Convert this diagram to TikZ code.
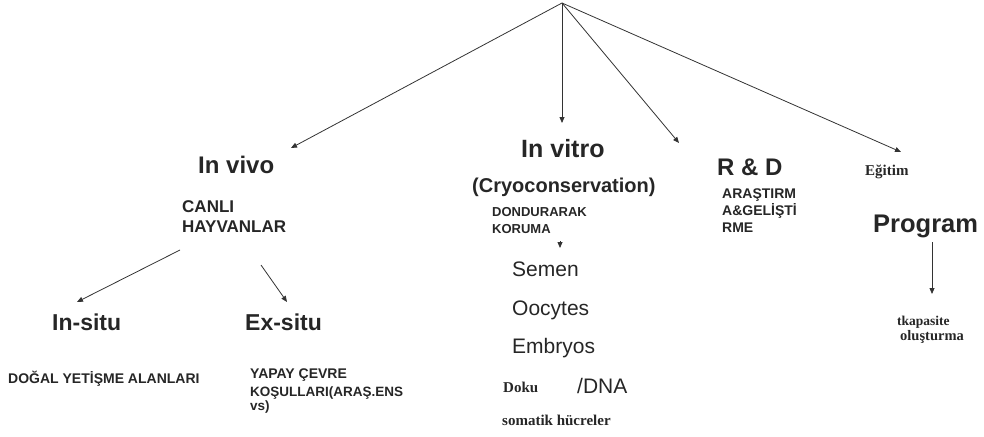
\documentclass[tikz,border=0pt]{standalone}
\usepackage{fontspec}
\setmainfont{Liberation Sans}
\newfontfamily\notefont{Liberation Serif}
\usetikzlibrary{arrows.meta}
\newcommand{\fsz}[1]{\fontsize{#1}{#1}\selectfont}
\tikzset{
  lbl/.style={anchor=base west, inner sep=0pt, text=black!85},
  head/.style={lbl, font=\bfseries\fsz{24}},
  sub/.style={lbl, font=\bfseries\fsz{14}},
  item/.style={lbl, font=\fsz{21}},
  note/.style={lbl, font=\notefont\bfseries\fsz{15}},
  arr/.style={draw=black!80, line width=0.8pt, -{Triangle[length=6pt,width=5pt]}},
}
\begin{document}
\begin{tikzpicture}[x=1pt, y=-1pt]
  \useasboundingbox (0,0) rectangle (984,436);
  % top
  \coordinate (root) at (562,3);
  % in vivo branch
  \node[head] (invivo) at (198,173) {In vivo};
  \node[sub, font=\bfseries\fsz{17}] (canli) at (182,212) {CANLI};
  \node[sub, font=\bfseries\fsz{17}] (hayvan) at (182,232) {HAYVANLAR};
  \node[head, font=\bfseries\fsz{23}] (insitu) at (52,330) {In-situ};
  \node[head, font=\bfseries\fsz{23}] (exsitu) at (245,330) {Ex-situ};
  \node[sub] (dogal) at (8,383) {DOĞAL YETİŞME ALANLARI};
  \node[sub] (yapay) at (250,378) {YAPAY ÇEVRE};
  \node[sub, font=\bfseries\fsz{13.5}] (kosul) at (250,396) {KOŞULLARI(ARAŞ.ENS};
  \node[sub, font=\bfseries\fsz{13.5}] (vs) at (250,410) {vs)};
  % in vitro branch
  \node[head, font=\bfseries\fsz{25}] (invitro) at (521,157) {In vitro};
  \node[head, font=\bfseries\fsz{20}] (cryo) at (472,192) {(Cryoconservation)};
  \node[sub, font=\bfseries\fsz{13}] (dondur) at (492,216) {DONDURARAK};
  \node[sub, font=\bfseries\fsz{13}] (koruma) at (492,233) {KORUMA};
  \node[item] (semen) at (512,276) {Semen};
  \node[item] (oocytes) at (512,315) {Oocytes};
  \node[item] (embryos) at (512,353) {Embryos};
  \node[note] (doku) at (503,392) {Doku};
  \node[item] (dna) at (577,393) {/DNA};
  \node[note] (somatik) at (502,425) {somatik hücreler};
  % R & D branch
  \node[head] (rd) at (717,175) {R \& D};
  \node[sub] (arastir) at (722,198) {ARAŞTIRM};
  \node[sub] (gelis) at (722,215) {A\&GELİŞTİ};
  \node[sub] (rme) at (722,232) {RME};
  % egitim branch
  \node[note] (egitim) at (865,175) {Eğitim};
  \node[head, font=\bfseries\fsz{25.5}] (program) at (873,232) {Program};
  \node[note, font=\notefont\bfseries\fsz{13.5}] (kapasite) at (897,325) {tkapasite};
  \node[note, font=\notefont\bfseries\fsz{14.5}] (olustur) at (900,340) {oluşturma};
  % arrow ends
  \coordinate (tvivo) at (291,148);
  \coordinate (tvitro) at (562,123);
  \coordinate (trd) at (679,143);
  \coordinate (tegit) at (901,152);
  \coordinate (vleft) at (180,250);
  \coordinate (tin) at (77,302);
  \coordinate (vright) at (261,265);
  \coordinate (tex) at (287,302);
  \coordinate (pstart) at (932,242);
  \coordinate (tkap) at (932,294);
  \coordinate (kstub) at (560,241);
  \coordinate (tstub) at (560,248);
  \draw[arr] (root) -- (tvivo);
  \draw[arr] (root) -- (tvitro);
  \draw[arr] (root) -- (trd);
  \draw[arr] (root) -- (tegit);
  \draw[arr] (vleft) -- (tin);
  \draw[arr] (vright) -- (tex);
  \draw[arr] (pstart) -- (tkap);
  \draw[arr] (kstub) -- (tstub);
\end{tikzpicture}
\end{document}
